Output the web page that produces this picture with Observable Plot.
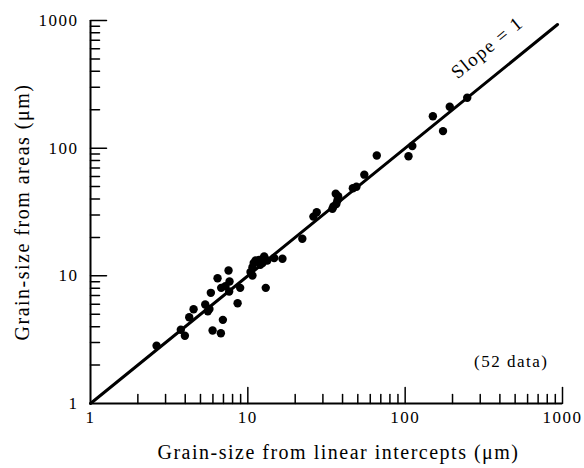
<!DOCTYPE html>
<html>
<head>
<meta charset="utf-8">
<script src="https://cdn.jsdelivr.net/npm/d3@7"></script>
<script src="https://cdn.jsdelivr.net/npm/@observablehq/plot@0.6"></script>
<style>
  html, body { margin: 0; padding: 0; background: #fff; }
</style>
</head>
<body>
<div id="chart"></div>
<script>
// Grain-size from linear intercepts (µm)
const gsLinear = [2.63, 3.75, 3.98, 4.24, 4.52, 5.36, 5.57, 5.82, 5.97, 6.74, 6.94, 6.42, 6.77, 7.54, 7.65, 7.61, 8.61, 8.94,
  10.7, 10.4, 10.7, 11.2, 11.8, 12.7, 12.4, 14.7, 16.6, 13.0, 22.2, 26.1, 27.4, 34.5, 35.0, 37.1, 36.2, 37.5,
  46.5, 49.0, 55, 66, 105, 111, 174, 150, 192, 248, 12.0, 13.3, 10.9, 36.5, 5.7, 7.2];
// Grain-size from areas (µm)
const gsAreas = [2.83, 3.78, 3.39, 4.74, 5.48, 5.96, 5.28, 7.36, 3.73, 3.55, 4.52, 9.58, 8.05, 11.0, 9.03, 7.53, 6.1, 8.05,
  10.05, 10.7, 11.7, 13.2, 13.3, 14.2, 12.6, 13.8, 13.6, 8.05, 19.5, 29.1, 31.5, 33.5, 34.9, 38.9, 43.9, 42,
  48.5, 49.8, 62, 87.5, 86.5, 104, 136, 178, 211, 248, 12.2, 13.2, 12.6, 36.5, 5.5, 8.3];

const majorTicks = [10, 100, 1000];
const minorTicks = [2, 3, 4, 5, 6, 7, 8, 9, 20, 30, 40, 50, 60, 70, 80, 90, 200, 300, 400, 500, 600, 700, 800, 900];
const tickLabels = [1, 10, 100, 1000];
const slopeLineEnds = [1, 930];
const slopeLabelAt = [420];

const xTitle = "Grain-size from linear intercepts (\u03bcm)";
const yTitle = "Grain-size from areas (\u03bcm)";
const slopeText = "Slope = 1";
const countText = "(52 data)";

const points = gsLinear.map((x, i) => ({x, y: gsAreas[i]}));

const tickShape = {draw(context, l) { context.moveTo(0, 0); context.lineTo(0, -l); }};

const chart = Plot.plot({
  width: 584,
  height: 468,
  marginLeft: 90,
  marginRight: 22,
  marginTop: 20,
  marginBottom: 65,
  style: {fontFamily: "'Liberation Serif', 'DejaVu Serif', serif", background: "#fff", color: "#000", letterSpacing: "1.5px"},
  x: {type: "log", domain: [1, 1000], axis: null},
  y: {type: "log", domain: [1, 1000], axis: null},
  marks: [
    // axis lines
    Plot.ruleX([1], {stroke: "#000", strokeWidth: 2}),
    Plot.ruleY([1], {stroke: "#000", strokeWidth: 2}),
    // x ticks (inward)
    Plot.vector(majorTicks, {x: d => d, frameAnchor: "bottom", length: 16, anchor: "start", shape: tickShape, stroke: "#000", strokeWidth: 1.5}),
    Plot.vector(minorTicks, {x: d => d, frameAnchor: "bottom", length: 9, anchor: "start", shape: tickShape, stroke: "#000", strokeWidth: 1.5}),
    // y ticks (inward)
    Plot.vector(majorTicks, {y: d => d, frameAnchor: "left", rotate: 90, length: 16, anchor: "start", shape: tickShape, stroke: "#000", strokeWidth: 1.5}),
    Plot.vector(minorTicks, {y: d => d, frameAnchor: "left", rotate: 90, length: 9, anchor: "start", shape: tickShape, stroke: "#000", strokeWidth: 1.5}),
    // tick labels
    Plot.text(tickLabels, {x: d => d, frameAnchor: "bottom", dy: 19, text: d => String(d), fontSize: 17, fill: "#000"}),
    Plot.text(tickLabels, {y: d => d, frameAnchor: "left", textAnchor: "end", dx: -12, text: d => String(d), fontSize: 17, fill: "#000"}),
    // axis titles
    Plot.text([xTitle], {frameAnchor: "bottom", textAnchor: "middle", dx: 12, dy: 55, text: d => d, fontSize: 20, fill: "#000"}),
    Plot.text([yTitle], {frameAnchor: "left", textAnchor: "middle", dx: -68, rotate: -90, text: d => d, fontSize: 20, fill: "#000"}),
    // slope = 1 line
    Plot.line(slopeLineEnds, {x: d => d, y: d => d, stroke: "#000", strokeWidth: 3}),
    // data points
    Plot.dot(points, {x: "x", y: "y", r: 4.2, fill: "#000", stroke: "none"}),
    // annotations
    Plot.text(slopeLabelAt, {x: d => d, y: d => d, text: () => slopeText, rotate: -39, dx: -16, dy: -21, fontSize: 19, fill: "#000"}),
    Plot.text([countText], {frameAnchor: "bottom-right", textAnchor: "end", dx: -14, dy: -37, text: d => d, fontSize: 17, fill: "#000"})
  ]
});

document.getElementById("chart").appendChild(chart);
</script>
</body>
</html>
